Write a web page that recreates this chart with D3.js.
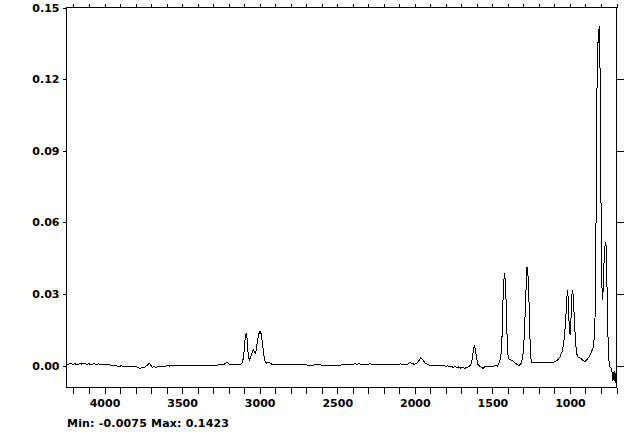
<!DOCTYPE html>
<html><head><meta charset="utf-8">
<script src="https://cdn.jsdelivr.net/npm/d3@7"></script>
<style>
html,body{margin:0;padding:0;background:#fff;}
text{font-family:"DejaVu Sans",sans-serif;font-weight:bold;font-size:11px;fill:#000;}
</style></head>
<body><svg id="c" width="640" height="442"></svg>
<script>
// Wavenumber (cm-1) and absorbance
const wavenumbers = [4245,4235,4220,4205,4190,4175,4160,4145,4130,4115,4100,4085,4070,4055,4040,4025,4010,3995,3980,3965,3950,3935,3920,3905,3890,3875,3860,3845,3830,3815,3800,3785,3770,3758,3745,3732,3720,3712,3702,3692,3680,3668,3655,3642,3630,3615,3600,3580,3560,3540,3520,3500,3480,3450,3420,3390,3360,3330,3300,3270,3250,3230,3212,3200,3190,3175,3160,3140,3120,3110,3100,3092,3086,3080,3074,3066,3058,3050,3042,3034,3026,3018,3008,2998,2990,2982,2974,2965,2955,2945,2935,2922,2900,2870,2840,2810,2780,2750,2720,2690,2660,2630,2600,2570,2540,2510,2480,2460,2440,2420,2400,2385,2372,2360,2345,2330,2315,2300,2290,2278,2260,2240,2220,2200,2180,2160,2140,2120,2105,2090,2075,2060,2045,2032,2020,2005,1990,1975,1962,1950,1935,1920,1905,1890,1875,1860,1845,1830,1815,1800,1788,1775,1765,1752,1740,1728,1716,1705,1692,1680,1668,1656,1645,1635,1625,1617,1610,1602,1593,1582,1570,1560,1550,1538,1525,1510,1495,1482,1468,1459,1450,1444,1438,1433,1427,1422,1418,1413,1408,1403,1398,1385,1370,1355,1340,1328,1315,1305,1298,1292,1287,1282,1277,1272,1267,1262,1257,1252,1246,1200,1150,1111,1095,1079,1065,1051,1043,1036,1030,1025,1019,1015,1011,1007,1003,999,994,991,987,983,979,975,971,966,961,956,951,940,929,916,904,890,876,862,849,842,836,832,829,825,822,818,814,811,807,803,799,795,790,786,781,776,771,767,763,759,754,749,742,735,728,723,719,715,711,707,703,700];
const absorbance = [0.0006,0.0005,0.0008,0.0005,0.0007,0.0004,0.0008,0.0006,0.0009,0.0005,0.0007,0.0004,0.0008,0.0005,0.0007,0.0005,0.0006,0.0005,0.0004,0.0002,0.0001,0.0002,-0.0002,-0.0003,-0.0001,-0.0005,-0.0003,-0.0006,-0.0002,-0.0005,-0.0003,-0.0007,-0.0013,-0.0006,-0.0010,-0.0002,0.0004,0.0010,0.0002,-0.0008,-0.0004,-0.0009,-0.0003,-0.0006,-0.0002,-0.0004,-0.0001,-0.0002,0.0000,-0.0001,0.0000,0.0000,-0.0001,0.0000,0.0000,0.0001,0.0000,-0.0001,0.0001,0.0002,0.0003,0.0005,0.0013,0.0008,0.0004,0.0005,0.0006,0.0004,0.0006,0.0012,0.0060,0.0125,0.0138,0.0105,0.0045,0.0022,0.0035,0.0052,0.0068,0.0058,0.0050,0.0085,0.0128,0.0143,0.0132,0.0095,0.0045,0.0018,0.0010,0.0015,0.0012,0.0006,0.0005,0.0004,0.0004,0.0005,0.0004,0.0003,0.0004,0.0002,0.0002,0.0003,0.0002,0.0002,0.0002,0.0002,0.0002,0.0004,0.0003,0.0004,0.0004,0.0008,0.0004,0.0010,0.0004,0.0005,0.0006,0.0004,0.0010,0.0005,0.0004,0.0005,0.0004,0.0005,0.0004,0.0005,0.0004,0.0006,0.0004,0.0007,0.0004,0.0006,0.0005,0.0015,0.0008,0.0006,0.0007,0.0018,0.0034,0.0025,0.0012,0.0005,0.0002,0.0001,0.0002,0.0000,0.0001,-0.0001,0.0000,-0.0003,-0.0001,-0.0005,-0.0002,-0.0008,-0.0004,-0.0010,-0.0005,-0.0011,-0.0008,-0.0012,-0.0009,-0.0006,-0.0001,0.0010,0.0050,0.0085,0.0070,0.0030,0.0005,-0.0003,-0.0008,-0.0012,-0.0006,-0.0003,-0.0004,-0.0002,-0.0003,-0.0001,-0.0002,0.0009,0.0025,0.0050,0.0120,0.0250,0.0350,0.0386,0.0362,0.0300,0.0177,0.0080,0.0030,0.0025,0.0020,0.0012,0.0003,0.0001,0.0009,0.0030,0.0080,0.0160,0.0250,0.0340,0.0411,0.0395,0.0340,0.0220,0.0100,0.0030,0.0012,0.0012,0.0012,0.0013,0.0016,0.0023,0.0035,0.0058,0.0085,0.0120,0.0170,0.0219,0.0290,0.0316,0.0280,0.0200,0.0150,0.0130,0.0180,0.0250,0.0300,0.0316,0.0290,0.0240,0.0190,0.0120,0.0079,0.0050,0.0037,0.0033,0.0030,0.0022,0.0016,0.0025,0.0037,0.0055,0.0079,0.0130,0.0250,0.0600,0.1060,0.1180,0.1310,0.1370,0.1400,0.1423,0.1300,0.1000,0.0600,0.0350,0.0275,0.0320,0.0420,0.0490,0.0519,0.0500,0.0400,0.0250,0.0100,0.0020,-0.0005,-0.0012,-0.0030,-0.0065,-0.0040,-0.0025,-0.0060,-0.0075,-0.0030,-0.0020];
const yTicks = [0.00,0.03,0.06,0.09,0.12,0.15];
const xMajor = [4000,3500,3000,2500,2000,1500,1000];
const xMinor = d3.range(700, 4201, 100);
const minMaxLabel = "Min: -0.0075 Max: 0.1423";

const svg = d3.select("#c");
const L = 66.5, R = 616.5, T = 7.5, B = 387.5;
const x = d3.scaleLinear().domain([4245, 700]).range([L, R]);
const y = d3.scaleLinear().domain([-0.0092, 0.15]).range([B, T]);

const data = wavenumbers.map((w, i) => [w, absorbance[i]]);

// frame
svg.append("rect").attr("x", L).attr("y", T).attr("width", R - L).attr("height", B - T)
  .attr("fill", "none").attr("stroke", "#000").attr("shape-rendering", "crispEdges");

function styleAxis(g){
  g.select(".domain").remove();
  g.selectAll("line").attr("stroke", "#000").attr("shape-rendering", "crispEdges");
  g.selectAll("text").attr("fill", "#000").style("font-family", "DejaVu Sans").style("font-weight", "bold").style("font-size", "11px");
}

// bottom axis
svg.append("g").attr("transform", `translate(0,${B})`)
  .call(d3.axisBottom(x).tickValues(xMinor).tickSize(6).tickPadding(6)
    .tickFormat(d => xMajor.includes(d) ? d : ""))
  .call(styleAxis);

// top axis
svg.append("g").attr("transform", `translate(0,${T})`)
  .call(d3.axisTop(x).tickValues(xMinor).tickSize(4).tickFormat(""))
  .call(styleAxis);

// left axis
svg.append("g").attr("transform", `translate(${L},0)`)
  .call(d3.axisLeft(y).tickValues(yTicks).tickSize(4).tickPadding(3).tickFormat(d3.format(".2f")))
  .call(styleAxis);

// right axis
svg.append("g").attr("transform", `translate(${R},0)`)
  .call(d3.axisRight(y).tickValues(yTicks.filter(v => v < 0.15)).tickSize(7).tickFormat(""))
  .call(styleAxis);

// spectrum
svg.append("path").datum(data)
  .attr("fill", "none").attr("stroke", "#000").attr("stroke-width", 1)
  .attr("shape-rendering", "crispEdges")
  .attr("d", d3.line().x(d => x(d[0])).y(d => y(d[1])));

svg.append("text").attr("x", 67).attr("y", 427).attr("textLength", 162).text(minMaxLabel);
</script></body></html>
